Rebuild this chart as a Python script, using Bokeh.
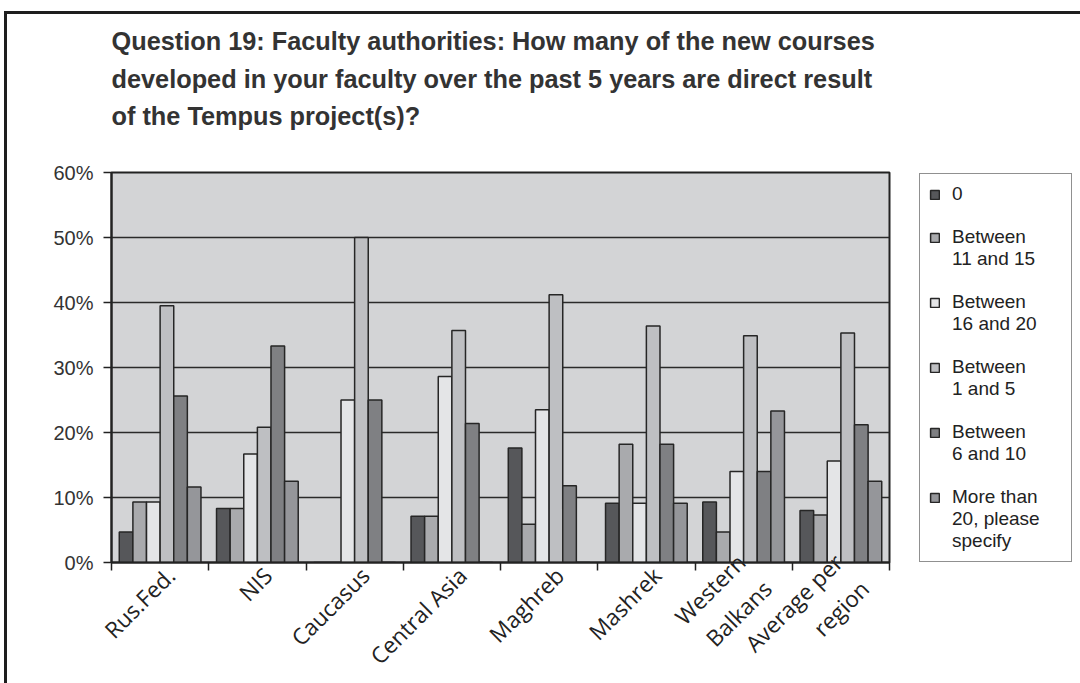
import math
from bokeh.plotting import figure
from bokeh.models import (ColumnDataSource, Range1d, LinearAxis, FixedTicker,
                          NumeralTickFormatter, Legend, LegendItem, Title)
from bokeh.transform import dodge
from bokeh.embed import file_html
from bokeh.resources import INLINE

# ---- data (percent of respondents) ----
categories = ["Rus.Fed.", "NIS", "Caucasus", "Central Asia", "Maghreb",
              "Mashrek", "Western\nBalkans", "Average per\nregion"]
series_names = ["0", "Between\n11 and 15", "Between\n16 and 20",
                "Between\n1 and 5", "Between\n6 and 10",
                "More than\n20, please\nspecify"]
v_0 = [4.7, 8.3, 0.0, 7.1, 17.6, 9.1, 9.3, 8.0]
v_11_15 = [9.3, 8.3, 0.0, 7.1, 5.9, 18.2, 4.7, 7.3]
v_16_20 = [9.3, 16.7, 25.0, 28.6, 23.5, 9.1, 14.0, 15.6]
v_1_5 = [39.5, 20.8, 50.0, 35.7, 41.2, 36.4, 34.9, 35.3]
v_6_10 = [25.6, 33.3, 25.0, 21.4, 11.8, 18.2, 14.0, 21.2]
v_more_20 = [11.6, 12.5, 0.0, 0.0, 0.0, 9.1, 23.3, 12.5]
y_ticks = [0, 10, 20, 30, 40, 50, 60]

series_values = [v_0, v_11_15, v_16_20, v_1_5, v_6_10, v_more_20]
series_keys = ["s0", "s1", "s2", "s3", "s4", "s5"]
colors = ["#56575a", "#a9aaad", "#e4e5e7", "#bebfc2", "#7f8083", "#95969a"]

# each category occupies 100 units on the x scale
SLOT = 100
cat_center = [SLOT * i + SLOT // 2 for i in range(len(categories))]
src = ColumnDataSource(dict(pos=cat_center,
                            **{k: [v / 100 for v in vals] for k, vals in zip(series_keys, series_values)}))

FONT = "Liberation Sans"
FRAME_W, FRAME_H = 778, 390
p = figure(x_range=Range1d(0, SLOT * len(categories)), y_range=Range1d(0, 0.6),
           frame_width=FRAME_W, frame_height=FRAME_H,
           min_border_left=104, min_border_top=120, min_border_bottom=115,
           min_border_right=188,
           output_backend="svg", toolbar_location=None,
           x_axis_location=None, background_fill_color="#d3d4d6",
           border_fill_color="white")
p.styles = {"border-top": "3px solid #1e1e1e", "border-left": "3px solid #1e1e1e",
            "border-right": "3px solid #1e1e1e", "border-bottom": "none",
            "margin-top": "11px", "margin-left": "4px"}
p.outline_line_color = "#222222"
p.outline_line_width = 2

# title (outermost panel)
p.title.text = ("Question 19: Faculty authorities: How many of the new courses\n"
                "developed in your faculty over the past 5 years are direct result\n"
                "of the Tempus project(s)?")
p.title.text_font = FONT
p.title.text_font_style = "bold"
p.title.text_font_size = "25.3px"
p.title.text_color = "#333333"
p.title.text_line_height = 1.35
p.title.offset = 0
p.title.standoff = 20
# spacer between title and plot area
p.add_layout(Title(text=" ", text_font_size="1px", standoff=29), "above")

# grid
p.xgrid.visible = False
p.ygrid.ticker = FixedTicker(ticks=[t / 100 for t in y_ticks])
p.ygrid.grid_line_color = "#2a2a2a"
p.ygrid.grid_line_width = 1.5

# y axis
ya = p.yaxis[0]
ya.ticker = FixedTicker(ticks=[t / 100 for t in y_ticks])
ya.formatter = NumeralTickFormatter(format="0%")
ya.major_label_text_font = FONT
ya.major_label_text_font_size = "20px"
ya.major_label_text_color = "#333333"
ya.major_tick_in = 0
ya.major_tick_out = 8
ya.minor_tick_line_color = None
ya.axis_line_color = "#222222"
ya.axis_line_width = 2
ya.major_tick_line_color = "#222222"
ya.major_tick_line_width = 1.5
ya.major_label_standoff = 10

# x axis: boundary ticks (no labels)
bounds = [SLOT * i for i in range(len(categories) + 1)]
tick_axis = LinearAxis(ticker=FixedTicker(ticks=bounds),
                       major_label_overrides={b: "" for b in bounds},
                       major_tick_in=0, major_tick_out=8,
                       major_tick_line_color="#222222", major_tick_line_width=1.5,
                       minor_tick_line_color=None,
                       axis_line_color="#222222", axis_line_width=2,
                       major_label_text_font_size="1px", major_label_standoff=0)
p.add_layout(tick_axis, "below")
# x axis: category labels
label_pos = [c + 11 for c in cat_center]
label_axis = LinearAxis(ticker=FixedTicker(ticks=label_pos),
                        major_label_overrides={pos: lab for pos, lab in zip(label_pos, categories)},
                        major_tick_line_color=None, minor_tick_line_color=None,
                        axis_line_color=None,
                        major_label_orientation=math.pi / 4,
                        major_label_text_font="Open Sans",
                        major_label_text_font_size="22.5px",
                        major_label_text_color="#222222",
                        major_label_standoff=-5)
p.add_layout(label_axis, "below")

# bars
w = 14.0
bar_renderers = []
for i, (key, col) in enumerate(zip(series_keys, colors)):
    r = p.vbar(x=dodge("pos", (i - 2.5) * w), top=key, width=w,
               source=src, fill_color=col, line_color="#262626", line_width=1.5)
    bar_renderers.append(r)

# legend: one row per text line, swatch on the first line, blank rows between entries
items = []
for k, (name, r) in enumerate(zip(series_names, bar_renderers)):
    if k > 0:
        items.append(LegendItem(label=" ", renderers=[]))
    lines = name.split("\n")
    items.append(LegendItem(label=lines[0], renderers=[r]))
    for extra in lines[1:]:
        items.append(LegendItem(label=extra, renderers=[]))

legend = Legend(items=items, location=(30, 0), margin=15,
                padding=9, spacing=0, glyph_width=11, glyph_height=11,
                label_standoff=12, label_width=110, label_height=21,
                label_text_font=FONT, label_text_font_size="19px",
                label_text_color="#222222",
                border_line_color="#222222", border_line_width=1.5,
                background_fill_color="white", background_fill_alpha=1)
p.add_layout(legend, "right")

open("out.html", "w").write(file_html(p, INLINE))
